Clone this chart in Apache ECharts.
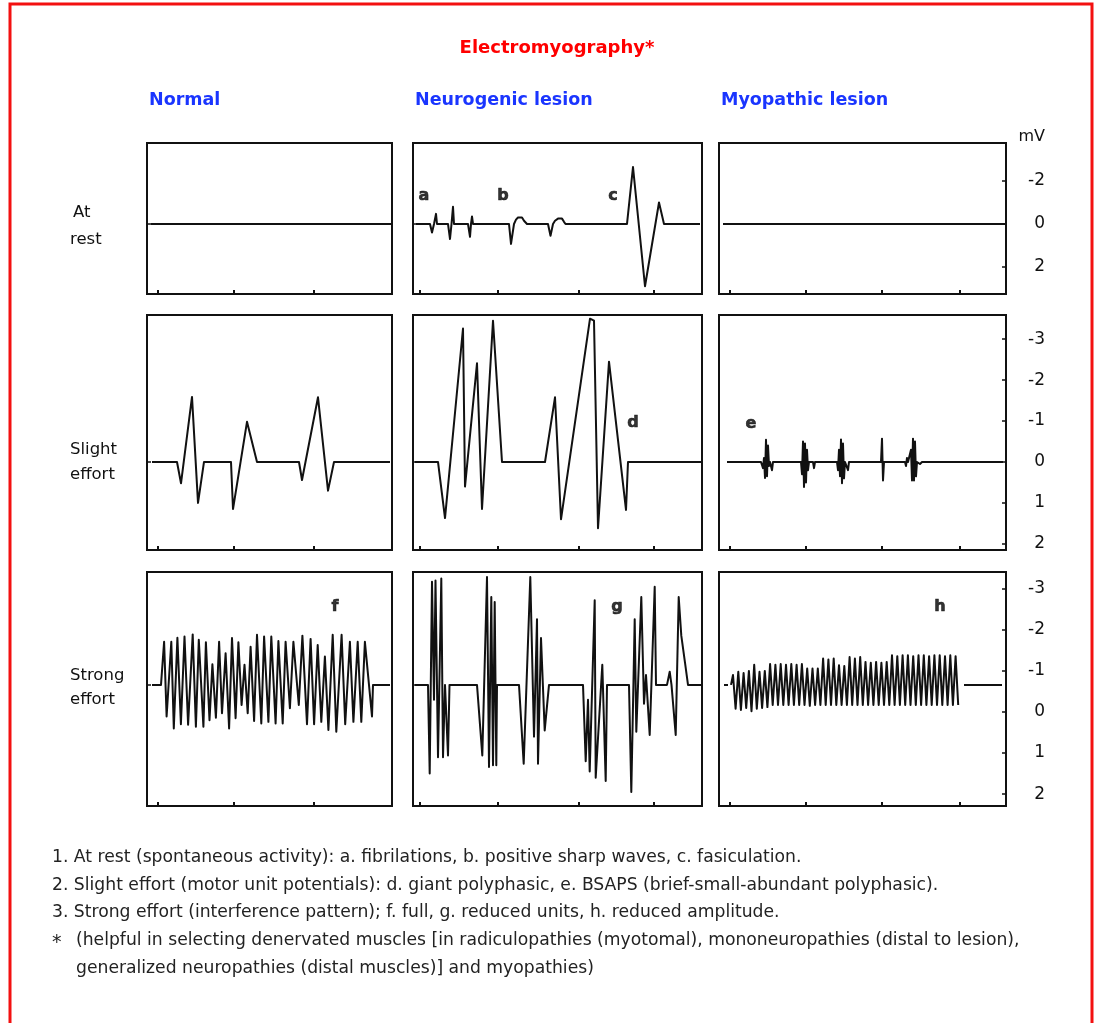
<!DOCTYPE html>
<html>
<head>
<meta charset="utf-8">
<title>Electromyography</title>
<script src="https://cdn.jsdelivr.net/npm/echarts@6/dist/echarts.min.js"></script>
<style>
    html, body { margin: 0; padding: 0; background: #fff; }
    #main { width: 1096px; height: 1023px; }
</style>
</head>
<body>
<div id="main"></div>
<script>
// column headers and row labels
var columns = ['Normal', 'Neurogenic lesion', 'Myopathic lesion'];
var rows = [['At', 'rest'], ['Slight', 'effort'], ['Strong', 'effort']];

// traces as [time, mV]  (mV axis runs negative-up like the original)
var restNormal = [[4, 0], [245, 0]];
var restNeuro = [
    [3, 0], [17, 0], [19, 0.4], [21, 0], [23, -0.47], [24, 0],
    [35, 0], [37, 0.7], [38.5, 0], [40, -0.8], [41, 0],
    [55, 0], [57, 0.6], [58, 0], [59, -0.35], [60, 0],
    [96, 0], [98, 0.93], [101, 0], [103, -0.2], [105, -0.3], [109, -0.3], [111, -0.15], [114, 0],
    [135, 0], [137.5, 0.55], [140, 0], [142, -0.15], [145, -0.25], [149, -0.25], [151, -0.1], [152.5, 0],
    [214, 0], [220, -2.65], [232, 2.9], [246, -1.0], [251, 0], [287, 0]
];
var restMyo = [[4, 0], [286, 0]];

var slightNormal = [
    [5, 0], [30, 0], [34, 0.52], [45, -1.59], [51, 1.0], [57, 0],
    [84, 0], [86, 1.15], [100, -0.98], [110, 0],
    [152, 0], [155, 0.44], [171, -1.58], [181, 0.7], [187, 0], [243, 0]
];
var slightNeuro = [
    [2, 0], [25, 0], [32, 1.37], [50, -3.26], [52, 0.6], [54, 0.6], [64, -2.41], [69, 1.15],
    [80, -3.45], [89, 0], [132, 0], [142, -1.58], [148, 1.4], [177, -3.5], [181, -3.45],
    [185, 1.62], [196, -2.45], [213, 1.17], [215, 0], [288, 0]
];
var slightMyo = [
    [8, 0], [42, 0], [44, 0.15], [45, -0.1], [46, 0.39], [47, -0.54], [48, 0.35], [49, -0.4], [50, 0.1],
    [51, 0], [53, 0.2], [54, 0],
    [82, 0], [83, 0.3], [84, -0.5], [85, 0.61], [86, -0.45], [87, 0.5], [88, -0.3], [89, 0.2], [90, 0],
    [94, 0], [95, 0.15], [96, 0],
    [118, 0], [119, 0.2], [120, -0.3], [121, 0.35], [122, -0.55], [123, 0.52], [124, -0.45], [125, 0.4],
    [126, 0], [129, 0.2], [130, 0],
    [162, 0], [163, -0.57], [164, 0.45], [165, 0],
    [186, 0], [187, 0.1], [188, -0.1], [189, 0], [192, -0.3], [193, 0.45], [194, -0.57], [195, 0.45],
    [196, -0.5], [197, 0.35], [198, 0], [201, 0.05], [203, 0], [284, 0]
];

var strongNormal = [
    [5, -0.66], [14, -0.66], [17.1, -1.71], [19.6, 0.11], [24.3, -1.71], [26.8, 0.4], [30.4, -1.81],
    [33.9, 0.3], [37.5, -1.84], [41.1, 0.31], [45.7, -1.89], [48.9, 0.36], [51.8, -1.76], [56.4, 0.36],
    [58.9, -1.7], [62.5, 0.2], [65.4, -1.16], [68.9, 0.14], [72.1, -1.71], [75, 0.03], [78.6, -1.43],
    [82.1, 0.4], [85, -1.8], [88.6, 0.15], [91.4, -1.7], [94.6, -0.17], [97.5, -1.15], [100.7, 0.03],
    [103.6, -1.59], [107.1, 0.22], [110, -1.88], [114.3, 0.28], [117.1, -1.84], [121.4, 0.24],
    [124.3, -1.84], [128.6, 0.28], [131.4, -1.73], [135.7, 0.28], [138.6, -1.71], [142.9, -0.09],
    [146.4, -1.71], [151.8, -0.17], [155.4, -1.86], [160, 0.3], [163.6, -1.78], [167.1, 0.3],
    [170.7, -1.63], [174.3, 0.24], [177.9, -1.35], [181.4, 0.44], [185.7, -1.88], [189.3, 0.48],
    [194.6, -1.88], [198.2, 0.3], [202.9, -1.71], [206.4, 0.24], [210.7, -1.71], [214.3, 0.24],
    [217.9, -1.71], [225, 0.11], [226, -0.66], [243, -0.66]
];
var strongNeuro = [
    [2, -0.66], [15, -0.66], [16.7, 1.5], [19, -3.17], [21, -0.3], [22.5, -3.2], [25, 1.1], [28.3, -3.25],
    [30, 1.1], [32, -0.66], [34, -0.66], [35, 1.06], [36.5, -0.66],
    [64, -0.66], [69.3, 1.06], [74, -3.29], [76, 1.34], [78.3, -2.8], [80, 1.3], [81.7, -2.68], [83.3, 1.3], [84, -0.66],
    [106, -0.66], [110.7, 1.26], [117.3, -3.29], [121, 0.6], [124, -2.26], [125, 1.26], [128, -1.8], [131.7, 0.45], [136, -0.66],
    [170, -0.66], [172.7, 1.2], [175, -0.3], [176.7, 1.45], [181.7, -2.72], [182.7, 1.6], [189.3, -1.15], [192.7, 1.68], [194, -0.66],
    [216, -0.66], [218.3, 1.95], [221.7, -2.26], [223.3, 0.48], [228.3, -2.8], [231, -0.2], [233, -0.9], [236.7, 0.56],
    [241.7, -3.05], [243, -0.66],
    [254, -0.66], [256.7, -0.98], [258.5, -0.66], [262.7, 0.56], [265.7, -2.8], [268.3, -1.86], [272, -1.2], [275, -0.66], [289, -0.66]
];
var strongMyo = [
    [5, -0.66], [9, -0.66], [10, '-'], [12, -0.66],
    [14, -0.9], [16.6, -0.08], [19.3, -0.98], [21.9, -0.05], [24.6, -0.95], [27.2, -0.1], [29.9, -1.0], [32.5, -0.02],
    [35.2, -1.15], [37.8, -0.08], [40.5, -0.98], [43.1, -0.1], [45.8, -1.0], [48.4, -0.12], [51.1, -1.17], [53.7, -0.17],
    [56.4, -1.15], [59, -0.17], [61.7, -1.17], [64.3, -0.17], [67, -1.15], [69.6, -0.17], [72.3, -1.17], [74.9, -0.17],
    [77.6, -1.15], [80.2, -0.17], [82.9, -1.17], [85.5, -0.17], [88.2, -1.06], [90.8, -0.15], [93.5, -1.06], [96.1, -0.17],
    [98.8, -1.06], [101.4, -0.17], [104.1, -1.3], [106.7, -0.17], [109.4, -1.28], [112, -0.17], [114.7, -1.3], [117.3, -0.17],
    [120, -1.14], [122.6, -0.17], [125.3, -1.12], [127.9, -0.17], [130.6, -1.34], [133.2, -0.17], [135.9, -1.3], [138.5, -0.17],
    [141.2, -1.34], [143.8, -0.17], [146.5, -1.22], [149.1, -0.17], [151.8, -1.2], [154.4, -0.17], [157.1, -1.22], [159.7, -0.17],
    [162.4, -1.2], [165, -0.17], [167.7, -1.22], [170.3, -0.17], [173, -1.38], [175.6, -0.17], [178.3, -1.36], [180.9, -0.17],
    [183.6, -1.38], [186.2, -0.17], [188.9, -1.38], [191.5, -0.17], [194.2, -1.36], [196.8, -0.17], [199.5, -1.38], [202.1, -0.17],
    [204.8, -1.38], [207.4, -0.17], [210.1, -1.36], [212.7, -0.17], [215.4, -1.38], [218, -0.17], [220.7, -1.38], [223.3, -0.17],
    [226, -1.36], [228.6, -0.17], [231.3, -1.38], [233.9, -0.17], [236.6, -1.36], [239.2, -0.17],
    [241, '-'], [245, -0.66], [283, -0.66]
];

var traces = [restNormal, restNeuro, restMyo, slightNormal, slightNeuro, slightMyo, strongNormal, strongNeuro, strongMyo];

// letters marking the examples: [panel, time, mV, letter]
var letterMarks = [
    [1, 11, -1.3, 'a'], [1, 90, -1.3, 'b'], [1, 200, -1.3, 'c'],
    [4, 220, -0.96, 'd'], [5, 32, -0.92, 'e'],
    [6, 188, -2.55, 'f'], [7, 204, -2.55, 'g'], [8, 221, -2.56, 'h']
];

// mV scale on the right of each row
var mvTicks = [[-2, 0, 2], [-3, -2, -1, 0, 1, 2], [-3, -2, -1, 0, 1, 2]];
var baselineMv = [0, 0, -0.66];
var timeTicks = [[11, 87, 167], [7, 85, 166, 241], [11, 87, 163, 241]];

var notes = [
    '1. At rest (spontaneous activity): a. fibrilations, b. positive sharp waves, c. fasiculation.',
    '2. Slight effort (motor unit potentials): d. giant polyphasic, e. BSAPS (brief-small-abundant polyphasic).',
    '3. Strong effort (interference pattern); f. full, g. reduced units, h. reduced amplitude.',
    '(helpful in selecting denervated muscles [in radiculopathies (myotomal), mononeuropathies (distal to lesion),',
    'generalized neuropathies (distal muscles)] and myopathies)'
];

// layout
var colLeft = [147, 413, 719];
var colWidth = [245, 289, 287];
var rowTop = [143, 315, 572];
var rowHeight = [151, 235, 234];
var yRange = [[-3.77, 3.26], [-3.59, 2.15], [-3.41, 2.29]];

var FONT = '"DejaVu Sans", sans-serif';
var INK = '#111';

var chart = echarts.init(document.getElementById('main'), null, { renderer: 'canvas' });

var grid = [], xAxis = [], yAxis = [], series = [];
for (var r = 0; r < 3; r++) {
    for (var c = 0; c < 3; c++) {
        var i = r * 3 + c;
        grid.push({
            left: colLeft[c], top: rowTop[r], width: colWidth[c], height: rowHeight[r],
            show: true, borderColor: INK, borderWidth: 2, backgroundColor: 'transparent',
            containLabel: false, outerBoundsMode: 'none'
        });
        xAxis.push({
            gridIndex: i, type: 'value', min: 0, max: colWidth[c], position: 'bottom',
            axisLine: { show: false, onZero: false }, splitLine: { show: false }, axisLabel: { show: false },
            axisTick: { show: true, inside: true, length: 4, customValues: timeTicks[c], lineStyle: { color: INK, width: 2 } }
        });
        yAxis.push({
            gridIndex: i, type: 'value', inverse: true, min: yRange[r][0], max: yRange[r][1],
            position: c === 2 ? 'right' : 'left',
            axisLine: { show: false, onZero: false }, splitLine: { show: false },
            axisTick: {
                show: true, inside: true, length: 4,
                customValues: c === 2 ? mvTicks[r] : [baselineMv[r]],
                lineStyle: { color: INK, width: 1.5 }
            },
            axisLabel: c === 2 ? {
                show: true, customValues: mvTicks[r], margin: 39, align: 'right',
                fontSize: 17, fontFamily: FONT, color: INK,
                formatter: function (v) { return String(v); }
            } : { show: false }
        });
        series.push({
            type: 'line', xAxisIndex: i, yAxisIndex: i, data: traces[i],
            symbol: 'none', showSymbol: false, silent: true, animation: false,
            lineStyle: { color: INK, width: 2, join: 'round' }
        });
    }
}

letterMarks.forEach(function (m) {
    series.push({
        type: 'scatter', xAxisIndex: m[0], yAxisIndex: m[0], symbolSize: 1, silent: true, animation: false,
        itemStyle: { color: 'rgba(0,0,0,0)' },
        data: [[m[1], m[2], m[3]]],
        label: {
            show: true, position: 'inside', formatter: function (p) { return p.data[2]; },
            color: '#000', fontWeight: 'bold', fontSize: 16, fontFamily: FONT,
            textBorderColor: '#000', textBorderWidth: 0.6
        }
    });
});

var graphic = [
    {
        type: 'rect', shape: { x: 10, y: 4, width: 1082, height: 1040 }, silent: true,
        style: { fill: 'none', stroke: '#f31010', lineWidth: 3 }
    },
    {
        type: 'text', x: 557, y: 48, silent: true,
        style: { text: 'Electromyography*', font: 'bold 18px ' + FONT, fill: '#ff0000', textAlign: 'center', textVerticalAlign: 'middle' }
    },
    {
        type: 'text', x: 1045, y: 137, silent: true,
        style: { text: 'mV', font: '16px ' + FONT, fill: INK, textAlign: 'right', textVerticalAlign: 'middle' }
    }
];
columns.forEach(function (name, c) {
    graphic.push({
        type: 'text', x: colLeft[c] + 2, y: 100, silent: true,
        style: { text: name, font: 'bold 17.5px ' + FONT, fill: '#1a35ff', textAlign: 'left', textVerticalAlign: 'middle' }
    });
});
var rowLabelY = [[213, 240], [450, 475], [676, 700]];
rows.forEach(function (lines, r) {
    lines.forEach(function (t, k) {
        graphic.push({
            type: 'text', x: k === 0 && r === 0 ? 73 : 70, y: rowLabelY[r][k], silent: true,
            style: { text: t, font: '16.5px ' + FONT, fill: INK, textAlign: 'left', textVerticalAlign: 'middle' }
        });
    });
});
var noteY = [858, 886, 913, 941, 969];
notes.forEach(function (t, k) {
    graphic.push({
        type: 'text', x: k >= 3 ? 76 : 52, y: noteY[k], silent: true,
        style: { text: t, font: '17.2px ' + FONT, fill: '#222', textAlign: 'left', textVerticalAlign: 'middle' }
    });
});
graphic.push({
    type: 'text', x: 52, y: noteY[3] + 2, silent: true,
    style: { text: '*', font: '19px ' + FONT, fill: '#222', textAlign: 'left', textVerticalAlign: 'middle' }
});

var option = {
    backgroundColor: '#fff',
    animation: false,
    grid: grid,
    xAxis: xAxis,
    yAxis: yAxis,
    series: series,
    graphic: graphic
};
chart.setOption(option);
</script>
</body>
</html>
